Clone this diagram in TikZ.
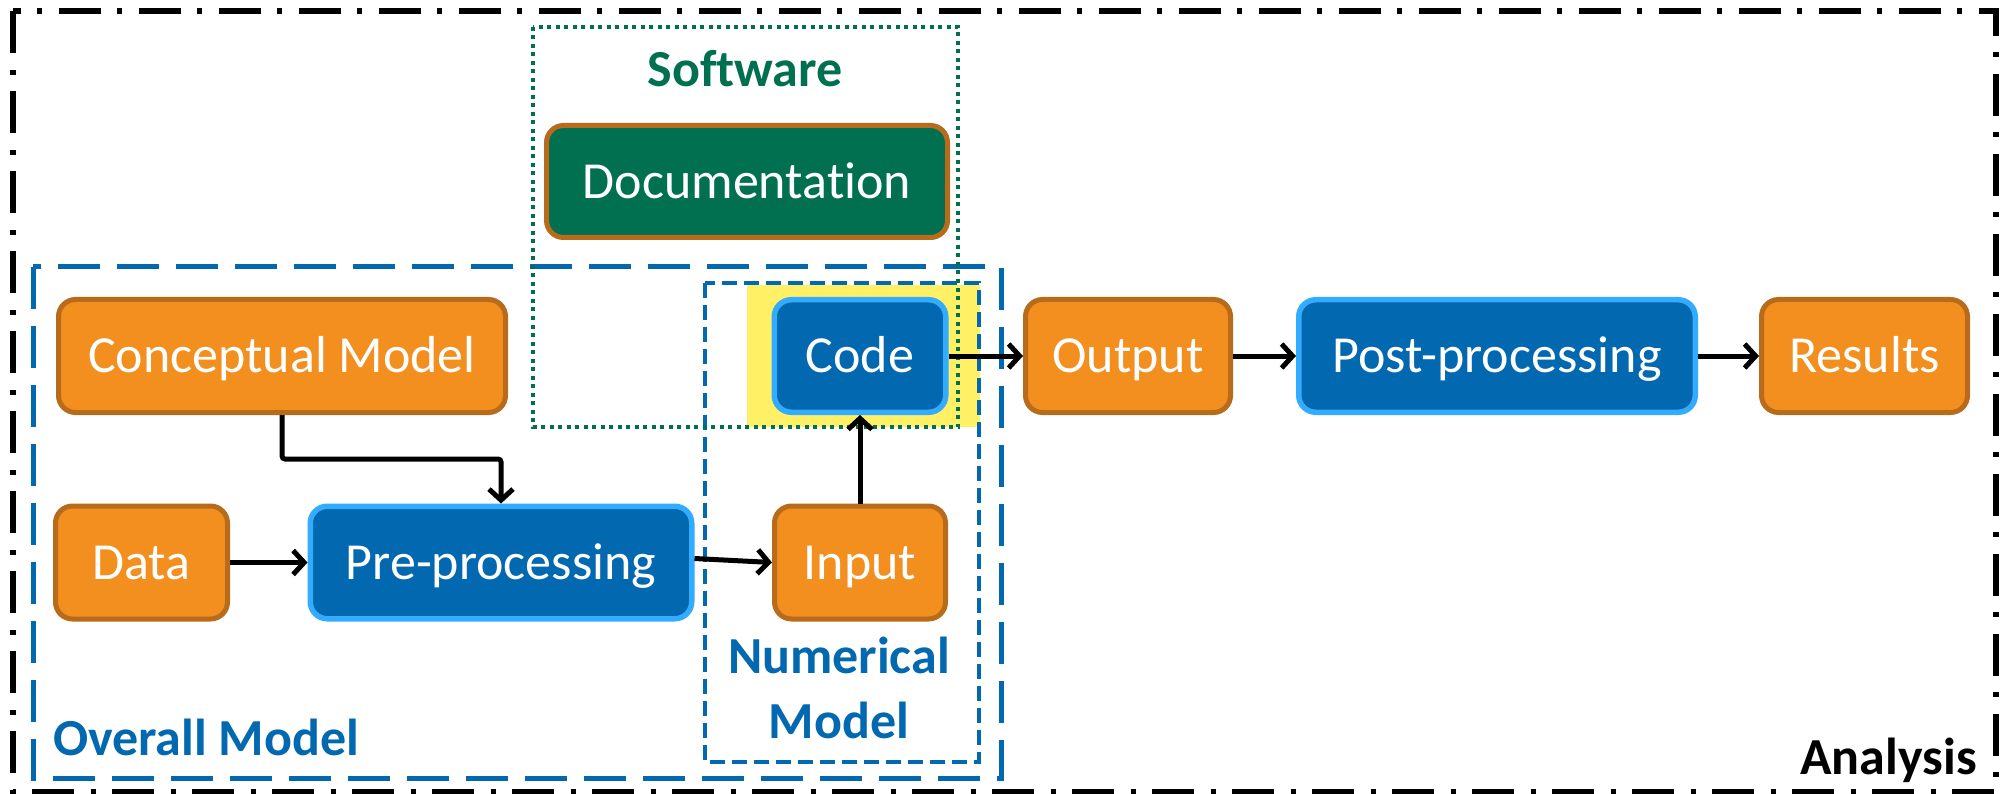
\documentclass[tikz,border=0pt]{standalone}
\usepackage{fontspec}
\setmainfont{Carlito}[Ligatures={NoCommon}]
\usetikzlibrary{arrows.meta}

\definecolor{orfill}{HTML}{F28F1F}
\definecolor{orline}{HTML}{B86C1B}
\definecolor{blfill}{HTML}{0268AF}
\definecolor{blline}{HTML}{33ABFF}
\definecolor{grfill}{HTML}{007051}
\definecolor{hlyellow}{HTML}{FFF066}

\begin{document}
\begin{tikzpicture}[x=1pt,y=-1pt,
  box/.style={rounded corners=17pt, line width=5pt, inner sep=0pt,
    text=white, font=\fontsize{52}{62}\selectfont,
    text height=33.5pt, text depth=0pt, align=center},
  orangebox/.style={box, fill=orfill, draw=orline},
  bluebox/.style={box, fill=blfill, draw=blline, line width=5.5pt},
  greenbox/.style={box, fill=grfill, draw=orline},
  lab/.style={font=\fontsize{52}{62}\selectfont\bfseries, inner sep=0pt},
  arr/.style={line width=5pt, -{Straight Barb[length=11pt,width=24pt]}},
  framestyle/.style={line width=5.5pt, dash pattern=on 42pt off 17pt on 5pt off 16pt},
  overallstyle/.style={draw=blfill, line width=5pt, dash pattern=on 42pt off 17pt},
  numstyle/.style={draw=blfill, line width=4.5pt, dash pattern=on 15pt off 7pt},
  swstyle/.style={draw=grfill, line width=4.2pt, dash pattern=on 4pt off 4.5pt},
]
\useasboundingbox (0,0) rectangle (2002,794);

% highlight behind the code block
\fill[hlyellow] (747,285) rectangle (980,427);

% grouping frames
\draw[overallstyle] (33,267) rectangle (1001,778);
\draw[numstyle] (705,283) rectangle (979,762);
\draw[swstyle] (533,27) rectangle (958,427);

% group labels
\node[lab, text=grfill, anchor=base] (swlab) at (745,87) {Software};
\node[lab, text=blfill, anchor=base west] (ovlab) at (53,755) {Overall Model};
\node[lab, text=blfill, anchor=base] (numlabA) at (839,673) {Numerical};
\node[lab, text=blfill, anchor=base] (numlabB) at (839,738) {Model};
\node[lab, text=black, anchor=base east] (anlab) at (1977,774) {Analysis};

% blocks
\node[greenbox, minimum width=401pt, minimum height=112pt] (doc) at (747,181.5) {Documentation};
\node[orangebox, minimum width=447pt, minimum height=113pt] (concept) at (282,356) {Conceptual Model};
\node[orangebox, minimum width=172pt, minimum height=113pt] (data) at (141.5,562.5) {Data};
\node[bluebox, minimum width=381.5pt, minimum height=112.5pt] (pre) at (501,562.5) {Pre-processing};
\node[orangebox, minimum width=171pt, minimum height=113pt] (input) at (860,562.5) {Input};
\node[bluebox, minimum width=171.5pt, minimum height=112.5pt] (code) at (860,356) {Code};
\node[orangebox, minimum width=205pt, minimum height=113pt] (output) at (1128,356) {Output};
\node[bluebox, minimum width=396.5pt, minimum height=112.5pt] (post) at (1497,356) {Post-processing};
\node[orangebox, minimum width=206pt, minimum height=113pt] (results) at (1864.5,356) {Results};

% connectors
\draw[arr, rounded corners=3pt] (concept.south) -- ++(0,44) -| (pre.north);
\draw[arr] (data) -- (pre);
\draw[arr] ([yshift=4pt]pre.east) -- (input.west);
\draw[arr] (input) -- (code);
\draw[arr] (code) -- (output);
\draw[arr] (output) -- (post);
\draw[arr] (post) -- (results);

% outer analysis frame
\draw[framestyle] (13,11) rectangle (1996,792);
\end{tikzpicture}
\end{document}
